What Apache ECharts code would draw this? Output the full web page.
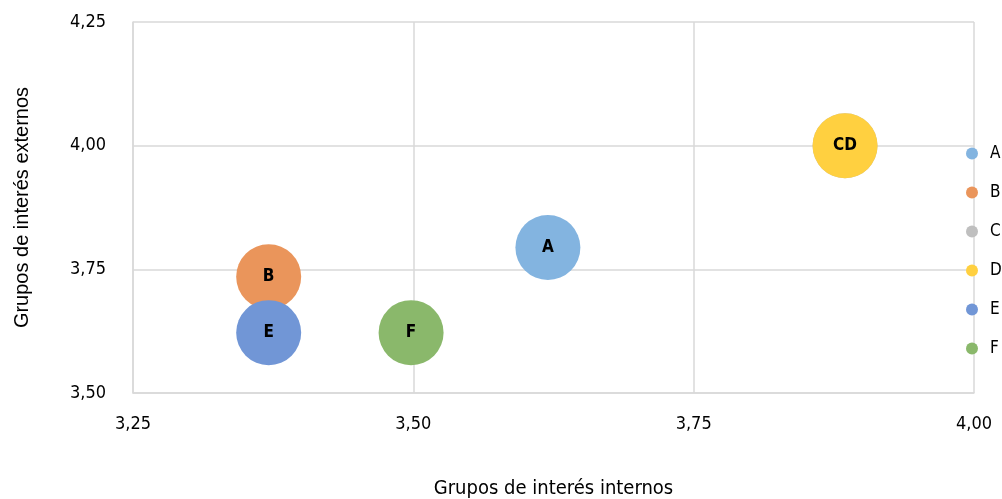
<!DOCTYPE html>
<html>
<head>
<meta charset="utf-8">
<script src="https://cdn.jsdelivr.net/npm/echarts@6/dist/echarts.min.js"></script>
<style>
  html, body { margin: 0; padding: 0; background: #fff; }
  #chart { width: 1002px; height: 499px; }
</style>
</head>
<body>
<div id="chart"></div>
<script>
// data
const groups = ['A', 'B', 'C', 'D', 'E', 'F']
const internos = [3.62, 3.371, 3.885, 3.885, 3.371, 3.498]
const externos = [3.794, 3.735, 4.0, 4.0, 3.622, 3.622]
const bubbleLabels = ['A', 'B', '', 'CD', 'E', 'F']
const xTicks = [3.25, 3.5, 3.75, 4.0]
const yTicks = [3.5, 3.75, 4.0, 4.25]

const colors = ['#83b4e0', '#ea955b', '#bfbfbf', '#ffd040', '#7196d6', '#8ab86b']
const condensed = "'Liberation Sans Narrow', 'DejaVu Sans Condensed', 'Roboto', sans-serif"
const fmt = v => v.toFixed(2).replace('.', ',')

const chart = echarts.init(document.getElementById('chart'))

const series = groups.map((g, i) => ({
  name: g,
  type: 'scatter',
  symbolSize: 65,
  itemStyle: { color: colors[i], opacity: 1 },
  label: {
    show: true,
    position: 'inside',
    formatter: () => bubbleLabels[i],
    color: '#000',
    fontFamily: condensed,
    fontSize: 17,
    fontWeight: 'bold'
  },
  data: [[internos[i], externos[i]]]
}))

const option = {
  animation: false,
  color: colors,
  grid: { left: 133, right: 28, top: 22, bottom: 106, containLabel: false, outerBoundsMode: 'none' },
  legend: {
    orient: 'vertical',
    left: 961,
    top: 140,
    icon: 'circle',
    itemWidth: 12,
    itemHeight: 12,
    itemGap: 22,
    textStyle: { fontFamily: condensed, fontSize: 17, color: '#000', lineHeight: 16, padding: [0, 0, 0, 7] },
    data: groups
  },
  xAxis: {
    type: 'value',
    min: xTicks[0],
    max: xTicks[xTicks.length - 1],
    interval: 0.25,
    name: 'Grupos de interés internos',
    nameLocation: 'middle',
    nameGap: 86,
    nameTextStyle: { fontFamily: condensed, fontSize: 20, color: '#000' },
    axisLine: { show: true, lineStyle: { color: '#d9d9d9', width: 1.5 } },
    axisTick: { show: false },
    splitLine: { show: true, lineStyle: { color: '#d9d9d9', width: 1.5 } },
    axisLabel: {
      margin: 22,
      formatter: fmt,
      fontFamily: condensed,
      fontSize: 18,
      color: '#000'
    }
  },
  yAxis: {
    type: 'value',
    min: yTicks[0],
    max: yTicks[yTicks.length - 1],
    interval: 0.25,
    name: 'Grupos de interés externos',
    nameLocation: 'middle',
    nameGap: 101,
    nameTextStyle: { fontFamily: "'Liberation Sans', Arial, sans-serif", fontSize: 20, color: '#000' },
    axisLine: { show: true, lineStyle: { color: '#d9d9d9', width: 1.5 } },
    axisTick: { show: false },
    splitLine: { show: true, lineStyle: { color: '#d9d9d9', width: 1.5 } },
    axisLabel: {
      margin: 27,
      formatter: fmt,
      fontFamily: condensed,
      fontSize: 18,
      color: '#000'
    }
  },
  series: series
}

chart.setOption(option)
</script>
</body>
</html>
